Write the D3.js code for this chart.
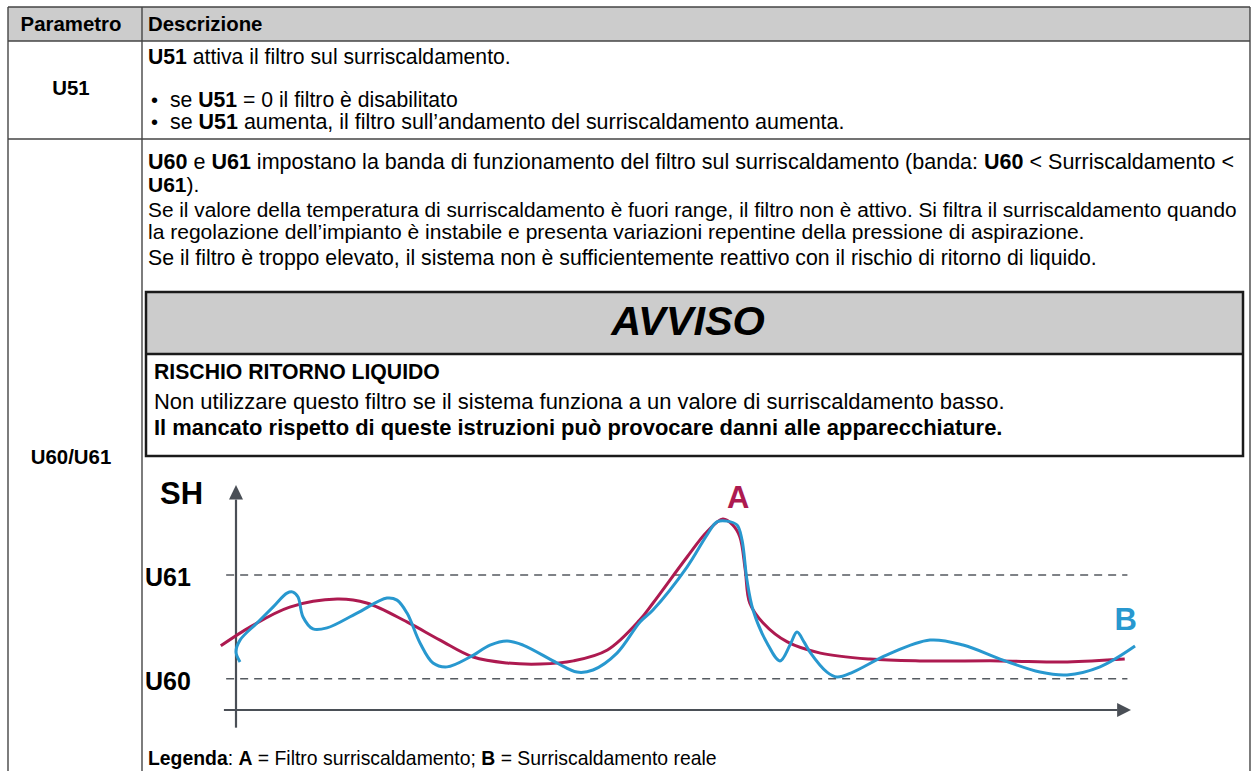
<!DOCTYPE html>
<html><head><meta charset="utf-8">
<script src="https://cdn.jsdelivr.net/npm/d3@7"></script>
<style>
body{margin:0;background:#fff;}
svg{display:block;}
text{font-family:"Liberation Sans", Arial, sans-serif;}
</style>
</head><body>
<svg id="c" width="1251" height="771"></svg>
<script>
// ---- chart data (time units 0..100, SH units; U60 = 2, U61 = 6) ----
const filterX = [-1.7, 1.6, 6.0, 11.3, 14.6, 19.1, 22.8, 26.5, 30.3, 34.0, 37.7, 41.5, 45.1, 46.6, 50.4, 52.6, 54.4, 55.5, 56.3, 56.9, 57.4, 58.9, 61.6, 65.3, 70.8, 76.4, 85.4, 92.9, 99.3];
const filterY = [3.27, 4.00, 4.76, 5.07, 4.92, 4.19, 3.49, 2.84, 2.61, 2.57, 2.69, 3.11, 4.26, 4.92, 6.69, 7.65, 8.15, 7.92, 7.46, 6.19, 4.92, 4.15, 3.42, 2.99, 2.76, 2.69, 2.69, 2.65, 2.76];
const realX = [0.45, 0.0, 0.45, 2.35, 4.13, 5.70, 6.37, 6.93, 7.49, 8.60, 10.17, 13.52, 16.87, 17.99, 19.11, 20.56, 22.01, 23.58, 26.15, 28.38, 30.28, 32.07, 35.87, 38.10, 39.89, 42.57, 45.14, 46.59, 50.39, 52.63, 53.74, 54.86, 55.98, 56.54, 57.09, 57.77, 59.33, 60.78, 61.90, 62.68, 63.46, 64.13, 66.03, 67.15, 68.94, 72.74, 77.54, 81.23, 85.70, 89.83, 92.85, 96.54, 100.45];
const realY = [2.65, 3.03, 3.49, 4.15, 4.76, 5.30, 5.34, 5.15, 4.38, 3.92, 3.96, 4.53, 5.11, 5.03, 4.53, 3.38, 2.61, 2.46, 2.84, 3.30, 3.46, 3.30, 2.61, 2.26, 2.34, 2.99, 4.19, 4.65, 6.30, 7.54, 8.04, 8.07, 7.92, 7.34, 5.80, 4.65, 3.38, 2.69, 3.30, 3.80, 3.42, 3.03, 2.26, 2.07, 2.26, 2.92, 3.49, 3.30, 2.72, 2.26, 2.15, 2.46, 3.26];
const bandLabels = ["U60", "U61"];
const bandValues = [2, 6];
const seriesLabels = ["A", "B"];
const axisLabel = "SH";

// ---- document text ----
const headerCells = ["Parametro", "Descrizione"];
const paramNames = ["U51", "U60/U61"];
const u51Lines = ["**U51** attiva il filtro sul surriscaldamento."];
const u51Bullets = ["se **U51** = 0 il filtro è disabilitato", "se **U51** aumenta, il filtro sull’andamento del surriscaldamento aumenta."];
const u60Lines = [
  "**U60** e **U61** impostano la banda di funzionamento del filtro sul surriscaldamento (banda: **U60** < Surriscaldamento <",
  "**U61**).",
  "Se il valore della temperatura di surriscaldamento è fuori range, il filtro non è attivo. Si filtra il surriscaldamento quando",
  "la regolazione dell’impianto è instabile e presenta variazioni repentine della pressione di aspirazione.",
  "Se il filtro è troppo elevato, il sistema non è sufficientemente reattivo con il rischio di ritorno di liquido."
];
const noticeTitle = "AVVISO";
const noticeLines = ["**RISCHIO RITORNO LIQUIDO**", "Non utilizzare questo filtro se il sistema funziona a un valore di surriscaldamento basso.", "**Il mancato rispetto di queste istruzioni può provocare danni alle apparecchiature.**"];
const legendLine = "**Legenda**: **A** = Filtro surriscaldamento; **B** = Surriscaldamento reale";

const svg = d3.select("#c");
const FS = 20;

function rich(g, x, y, str, opts = {}) {
  const t = g.append("text").attr("x", x).attr("y", y)
    .attr("font-size", opts.fs || FS).attr("fill", "#000")
    .attr("text-anchor", opts.anchor || "start");
  str.split("**").forEach((s, i) => {
    if (s.length) t.append("tspan").attr("font-weight", (i % 2 === 1 || opts.bold) ? "bold" : "normal").text(s);
  });
  if (opts.end) {
    const w = t.node().getComputedTextLength();
    const fs = (opts.fs || FS) * (opts.end - x) / w;
    t.attr("font-size", Math.max(18, Math.min(23, fs)));
  }
  return t;
}

// ---- table ----
const T = {l: 8, r: 1250, t: 7, hb: 41, r1: 139, c: 142, b: 771};
const colMid = 71;
svg.append("rect").attr("x", T.l).attr("y", T.t).attr("width", T.r - T.l).attr("height", T.hb - T.t).attr("fill", "#cccccc");
const lineCol = "#454545";
[[T.l, T.t, T.r, T.t], [T.l, T.hb, T.r, T.hb], [T.l, T.r1, T.r, T.r1], [T.l, T.t, T.l, T.b + 5], [T.r, T.t, T.r, T.b + 5], [T.c, T.t, T.c, T.b + 5]]
  .forEach(d => svg.append("line").attr("x1", d[0]).attr("y1", d[1]).attr("x2", d[2]).attr("y2", d[3]).attr("stroke", lineCol).attr("stroke-width", 1.4));

rich(svg, colMid, 31, headerCells[0], {bold: true, anchor: "middle", fs: 20.4});
rich(svg, 148, 31, headerCells[1], {bold: true, fs: 20.4});
rich(svg, colMid, 95, paramNames[0], {bold: true, anchor: "middle", fs: 20.4});
rich(svg, colMid, 464, paramNames[1], {bold: true, anchor: "middle", fs: 20.4});

rich(svg, 148, 64, u51Lines[0], {end: 511});
const bulletEnds = [458, 845];
[107, 129].forEach((y, i) => {
  svg.append("text").attr("x", 151).attr("y", y).attr("font-size", FS).text("•");
  rich(svg, 170, y, u51Bullets[i], {end: bulletEnds[i]});
});
const u60Ends = [1235, 0, 1237, 1085, 1097];
[169, 192, 217, 239, 265].forEach((y, i) => rich(svg, 148, y, u60Lines[i], u60Ends[i] ? {end: u60Ends[i]} : {fs: 21}));

// notice box
const N = {l: 146, r: 1243, t: 292, m: 354, b: 456};
svg.append("rect").attr("x", N.l).attr("y", N.t).attr("width", N.r - N.l).attr("height", N.m - N.t).attr("fill", "#cccccc");
svg.append("rect").attr("x", N.l).attr("y", N.t).attr("width", N.r - N.l).attr("height", N.b - N.t).attr("fill", "none").attr("stroke", "#1a1a1a").attr("stroke-width", 2.5);
svg.append("line").attr("x1", N.l).attr("x2", N.r).attr("y1", N.m).attr("y2", N.m).attr("stroke", "#1a1a1a").attr("stroke-width", 2.5);
svg.append("text").attr("x", 688).attr("y", 335).attr("text-anchor", "middle")
  .attr("font-size", 41.5).attr("font-weight", "bold").attr("font-style", "italic").text(noticeTitle);
const noticeEnds = [440, 1005, 1003];
[379, 409, 435].forEach((y, i) => rich(svg, 154, y, noticeLines[i], {end: noticeEnds[i]}));

rich(svg, 148, 765, legendLine, {end: 717});

// ---- chart ----
const x = d3.scaleLinear().domain([0, 100]).range([236, 1131]);
const y = d3.scaleLinear().domain([0.8, 10]).range([710, 471]);
const axisCol = "#4a4f56";

// y axis with arrow
svg.append("line").attr("x1", x(0)).attr("x2", x(0)).attr("y1", y(0.12)).attr("y2", y(8.9)).attr("stroke", axisCol).attr("stroke-width", 2.2);
svg.append("path").attr("d", `M${x(0)},${y(9.46)} L${x(0) - 7},${y(8.9)} L${x(0) + 7},${y(8.9)} Z`).attr("fill", axisCol);
// x axis with arrow
svg.append("line").attr("x1", x(-1.35)).attr("x2", x(98.5)).attr("y1", y(0.8)).attr("y2", y(0.8)).attr("stroke", axisCol).attr("stroke-width", 2.2);
svg.append("path").attr("d", `M${x(100)},${y(0.8)} L${x(98.45)},${y(0.8) - 7} L${x(98.45)},${y(0.8) + 7} Z`).attr("fill", axisCol);

// band lines
bandValues.forEach((v, i) => {
  svg.append("line").attr("x1", x(-1.1)).attr("x2", x(99.6)).attr("y1", y(v)).attr("y2", y(v))
    .attr("stroke", "#555a60").attr("stroke-width", 1.5).attr("stroke-dasharray", "8,6");
  svg.append("text").attr("x", 145).attr("y", y(v) + 11).attr("font-size", 25).attr("font-weight", "bold").text(bandLabels[i]);
});
svg.append("text").attr("x", 160).attr("y", 504).attr("font-size", 31).attr("font-weight", "bold").text(axisLabel);

const lineGen = d3.line().x(d => x(d[0])).y(d => y(d[1])).curve(d3.curveCatmullRom.alpha(0.5));
const filterPts = filterX.map((v, i) => [v, filterY[i]]);
const realPts = realX.map((v, i) => [v, realY[i]]);
const red = "#ad1a50", blue = "#2898cf";
svg.append("path").attr("d", lineGen(filterPts)).attr("fill", "none").attr("stroke", red).attr("stroke-width", 3);
svg.append("path").attr("d", lineGen(realPts)).attr("fill", "none").attr("stroke", blue).attr("stroke-width", 3);

svg.append("text").attr("x", x(56.1)).attr("y", 508).attr("text-anchor", "middle").attr("font-size", 31).attr("font-weight", "bold").attr("fill", red).text(seriesLabels[0]);
svg.append("text").attr("x", x(99.4)).attr("y", 630).attr("text-anchor", "middle").attr("font-size", 31).attr("font-weight", "bold").attr("fill", blue).text(seriesLabels[1]);
</script>
</body></html>
